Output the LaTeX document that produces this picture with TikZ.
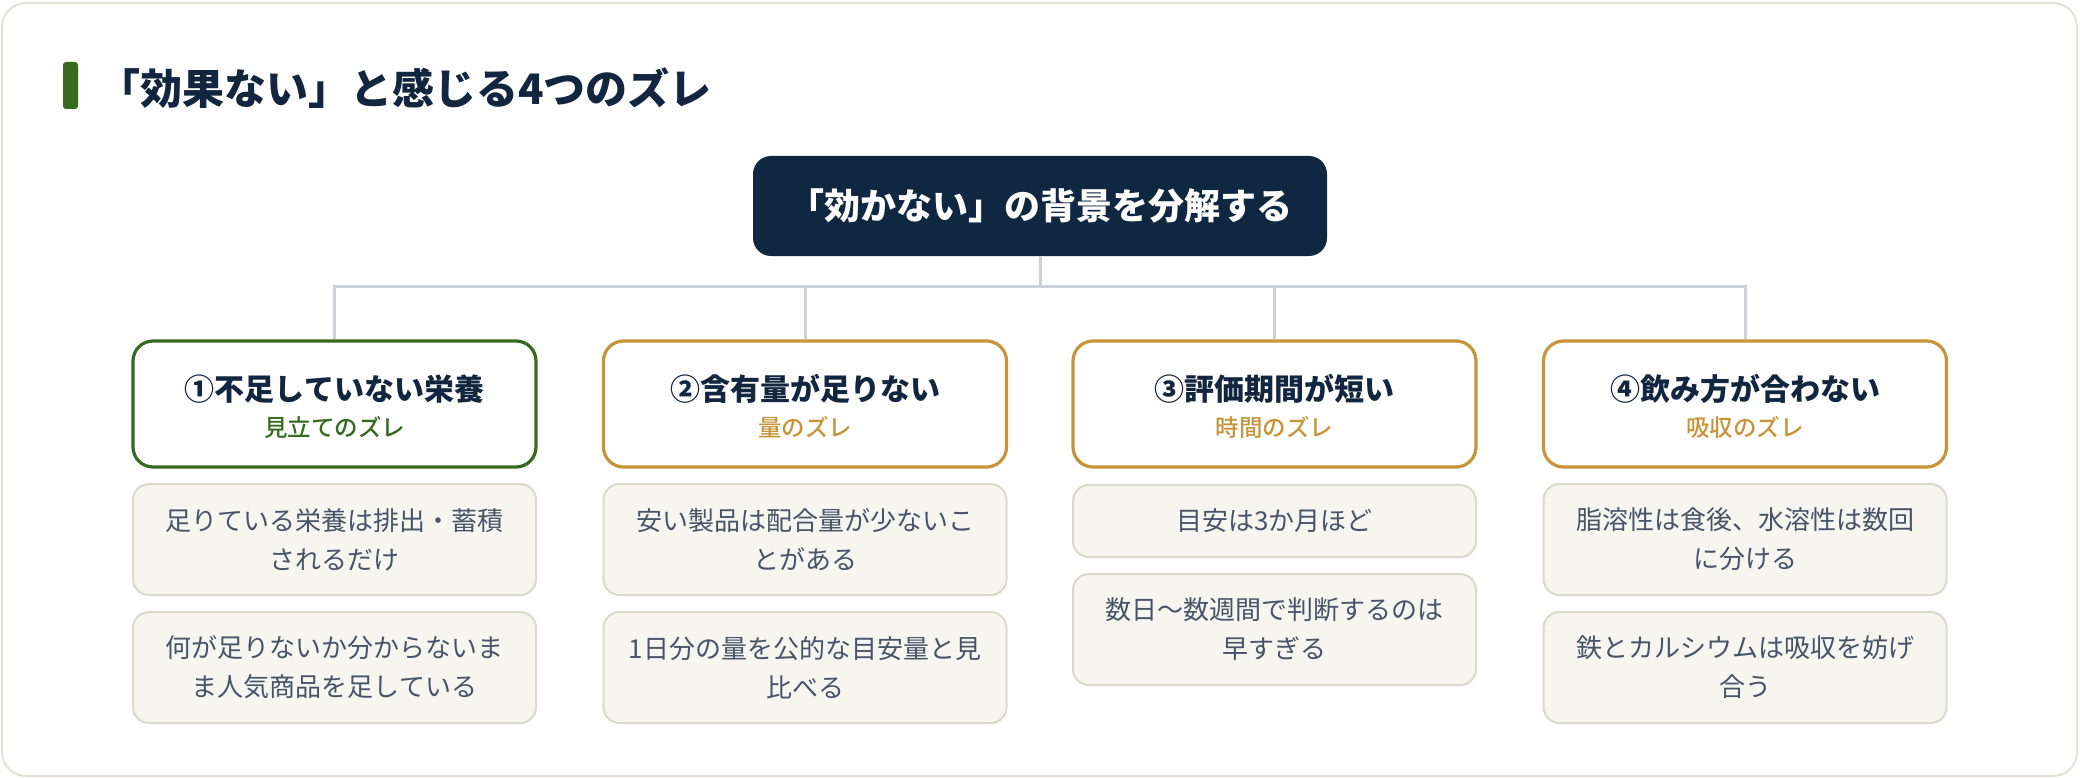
\documentclass[tikz,border=0pt]{standalone}
\usepackage{fontspec}
\setmainfont{Noto Sans CJK JP}
\newfontfamily\jpmed{Noto Sans CJK JP Medium}
\definecolor{navy}{HTML}{0F2740}
\definecolor{ttl}{HTML}{12263F}
\definecolor{grn}{HTML}{356A1F}
\definecolor{gold}{HTML}{C8943A}
\definecolor{dfill}{HTML}{F6F5F0}
\definecolor{dline}{HTML}{DCD9CB}
\definecolor{conn}{HTML}{CBD0D9}
\definecolor{dtext}{HTML}{475467}
\definecolor{outer}{HTML}{E4E2D6}
\tikzset{
  catbox/.style={draw, line width=3.2pt, rounded corners=20pt, fill=white,
    minimum width=403pt, minimum height=126pt, inner sep=0pt},
  cattitle/.style={font=\fontsize{30}{36}\selectfont\bfseries, text=ttl, inner sep=0pt},
  catsub/.style={font=\fontsize{23.5}{28}\selectfont\jpmed, inner sep=0pt},
  detail/.style={draw=dline, line width=2pt, fill=dfill, rounded corners=16pt,
    minimum width=403pt, minimum height=111pt, inner sep=0pt, align=center,
    text=dtext, font=\fontsize{26}{39}\selectfont},
  connline/.style={draw=conn, line width=3pt},
}
\begin{document}
\begin{tikzpicture}[x=1pt,y=-1pt]
\useasboundingbox (0,0) rectangle (2080,778);
% outer card
\draw[draw=outer, line width=2pt, fill=white, rounded corners=24pt] (2,3) rectangle (2077,776);
% title
\fill[grn, rounded corners=3pt] (63,62) rectangle (78,109);
\node[anchor=west, inner sep=0pt, text=ttl, font=\fontsize{42}{50}\selectfont\bfseries] (title) at (98,88) {「効果ない」と感じる4つのズレ};
% root
\node[fill=navy, rounded corners=18pt, minimum width=574pt, minimum height=100pt, inner sep=0pt,
  text=white, font=\fontsize{36}{42}\selectfont\bfseries] (root) at (1040,206) {「効かない」の背景を分解する};
% categories
\node[catbox, draw=grn] (c1) at (334.5,404) {};
\node[catbox, draw=gold] (c2) at (805,404) {};
\node[catbox, draw=gold] (c3) at (1274.5,404) {};
\node[catbox, draw=gold] (c4) at (1745,404) {};
\node[cattitle] (t1) at (334.5,389) {①不足していない栄養};
\node[catsub, text=grn] (s1) at (334.5,427) {見立てのズレ};
\node[cattitle] (t2) at (805,389) {②含有量が足りない};
\node[catsub, text=gold] (s2) at (805,427) {量のズレ};
\node[cattitle] (t3) at (1274.5,389) {③評価期間が短い};
\node[catsub, text=gold] (s3) at (1274.5,427) {時間のズレ};
\node[cattitle] (t4) at (1745,389) {④飲み方が合わない};
\node[catsub, text=gold] (s4) at (1745,427) {吸収のズレ};
% connectors
\coordinate (j) at (1040,286);
\draw[connline] (root.south) -- (j);
\draw[connline] (c1.north) -- (c1.north |- j) -- (c4.north |- j) -- (c4.north);
\draw[connline] (c2.north) -- (c2.north |- j);
\draw[connline] (c3.north) -- (c3.north |- j);
% details
\node[detail] (d11) at (334.5,539.5) {足りている栄養は排出・蓄積\\されるだけ};
\node[detail] (d12) at (334.5,667.5) {何が足りないか分からないま\\ま人気商品を足している};
\node[detail] (d21) at (805,539.5) {安い製品は配合量が少ないこ\\とがある};
\node[detail] (d22) at (805,667.5) {1日分の量を公的な目安量と見\\比べる};
\node[detail, minimum height=72pt] (d31) at (1274.5,521) {目安は3か月ほど};
\node[detail] (d32) at (1274.5,629.5) {数日〜数週間で判断するのは\\早すぎる};
\node[detail] (d41) at (1745,539.5) {脂溶性は食後、水溶性は数回\\に分ける};
\node[detail] (d42) at (1745,667.5) {鉄とカルシウムは吸収を妨げ\\合う};
\end{tikzpicture}
\end{document}
